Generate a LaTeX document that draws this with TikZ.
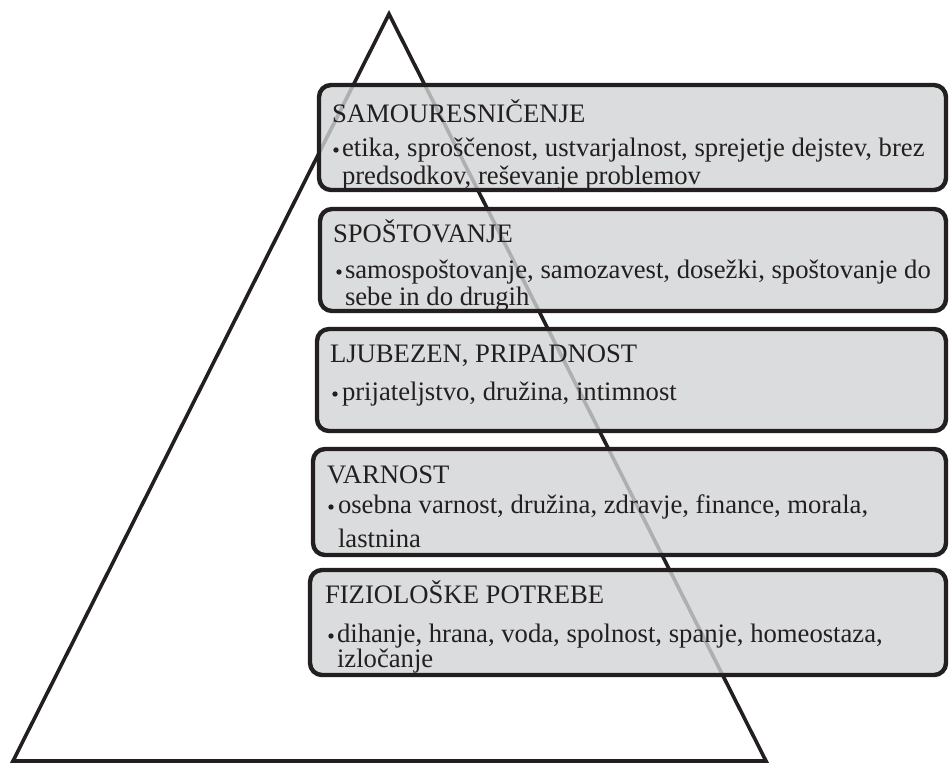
\documentclass[tikz,border=0pt]{standalone}
\usepackage{fontspec}
\setmainfont{Liberation Serif}
\definecolor{ink}{HTML}{231F20}
\definecolor{boxfill}{HTML}{D1D3D4}
\begin{document}
\begin{tikzpicture}[x=0.75pt,y=-0.75pt,
  tri/.style={draw=ink, line width=2.7pt, line join=miter},
  levelbox/.style={draw=ink, line width=3.3pt, fill=boxfill, fill opacity=0.8, draw opacity=1, rounded corners=9pt},
  txt/.style={anchor=base west, inner sep=0pt, outer sep=0pt, text=ink, font=\fontsize{20}{20}\selectfont},
  dotmark/.style={circle, fill=ink, inner sep=0pt, minimum size=4pt}
]
\useasboundingbox (0,0) rectangle (949,765);
% pyramid
\coordinate (apex) at (389,14);
\coordinate (bl) at (13,761);
\coordinate (br) at (766,761);
\draw[tri] (apex) -- (bl) -- (br) -- cycle;
% level boxes
\draw[levelbox] (319,85) rectangle (946,190);
\draw[levelbox] (320,209) rectangle (946,311);
\draw[levelbox] (317,329) rectangle (946,431);
\draw[levelbox] (313,449) rectangle (946,555);
\draw[levelbox] (310,570) rectangle (946,675);
% box 1
\node[txt] (t1) at (332,122) {SAMOURESNIČENJE};
\node[dotmark] (d1) at (336,150) {};
\node[txt] (l1a) at (342,156) {etika, sproščenost, ustvarjalnost, sprejetje dejstev, brez};
\node[txt] (l1b) at (342,184) {predsodkov, reševanje problemov};
% box 2
\node[txt] (t2) at (333,242) {SPOŠTOVANJE};
\node[dotmark] (d2) at (339,272) {};
\node[txt] (l2a) at (345,278) {samospoštovanje, samozavest, dosežki, spoštovanje do};
\node[txt] (l2b) at (345,305) {sebe in do drugih};
% box 3
\node[txt] (t3) at (330,362) {LJUBEZEN, PRIPADNOST};
\node[dotmark] (d3) at (335,394) {};
\node[txt] (l3a) at (342,400) {prijateljstvo, družina, intimnost};
% box 4
\node[txt] (t4) at (327,483) {VARNOST};
\node[dotmark] (d4) at (331,507) {};
\node[txt] (l4a) at (338,513) {osebna varnost, družina, zdravje, finance, morala,};
\node[txt] (l4b) at (338,547) {lastnina};
% box 5
\node[txt] (t5) at (325,603) {FIZIOLOŠKE POTREBE};
\node[dotmark] (d5) at (331,636) {};
\node[txt] (l5a) at (337,642) {dihanje, hrana, voda, spolnost, spanje, homeostaza,};
\node[txt] (l5b) at (337,667) {izločanje};
\end{tikzpicture}
\end{document}
